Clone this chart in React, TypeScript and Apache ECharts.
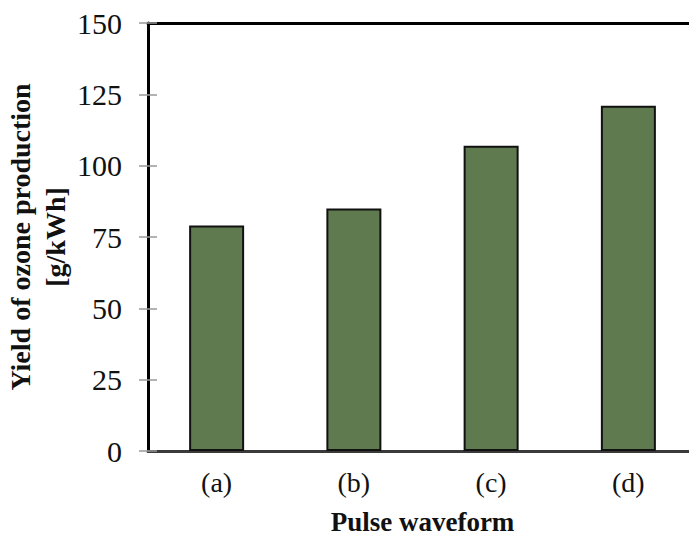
import React, { useEffect, useRef } from "react";
import * as echarts from "echarts";

const categories = ["(a)", "(b)", "(c)", "(d)"];
const yieldValues = [79, 85, 107, 121];
const yTicks = [0, 25, 50, 75, 100, 125, 150];

const SERIF = "'Liberation Serif', 'Times New Roman', serif";

const GRID_LEFT = 148;
const GRID_WIDTH = 549;

export default function App() {
  const ref = useRef<HTMLDivElement>(null);

  useEffect(() => {
    if (!ref.current) return;
    const chart = echarts.init(ref.current, null, { renderer: "svg" });
    const yMin = yTicks[0];
    const yMax = yTicks[yTicks.length - 1];
    const yStep = yTicks[1] - yTicks[0];

    chart.setOption({
      animation: false,
      backgroundColor: "#ffffff",
      grid: {
        left: GRID_LEFT,
        top: 23,
        width: GRID_WIDTH,
        height: 428,
        containLabel: false,
        outerBoundsMode: "none",
      },
      xAxis: [
        {
          type: "category",
          data: categories,
          position: "bottom",
          axisLine: { show: true, onZero: false, lineStyle: { color: "#3a3a3a", width: 3 } },
          axisTick: { show: false },
          axisLabel: {
            fontFamily: SERIF,
            fontSize: 28,
            color: "#111",
            margin: 17,
          },
          name: "Pulse waveform",
          nameLocation: "middle",
          nameGap: 57,
          nameMoveOverlap: false,
          nameTextStyle: {
            fontFamily: SERIF,
            fontSize: 27,
            fontWeight: "bold",
            color: "#111",
          },
        },
        {
          // frame line along the top of the plot
          type: "category",
          data: categories,
          position: "top",
          axisLine: { show: true, onZero: false, lineStyle: { color: "#000", width: 3 } },
          axisTick: { show: false },
          axisLabel: { show: false },
        },
      ],
      yAxis: [
        {
          type: "value",
          min: yMin,
          max: yMax,
          interval: yStep,
          position: "left",
          axisLine: { show: true, onZero: false, lineStyle: { color: "#000", width: 3 } },
          axisTick: { show: true, inside: false, length: 9, lineStyle: { color: "#999", width: 1.5 } },
          splitLine: { show: false },
          axisLabel: {
            fontFamily: SERIF,
            fontSize: 30,
            color: "#111",
            margin: 26,
          },
          name: "Yield of ozone production\n[g/kWh]",
          nameLocation: "middle",
          nameRotate: 90,
          nameGap: 75,
          nameMoveOverlap: false,
          nameTextStyle: {
            fontFamily: SERIF,
            fontSize: 28,
            fontWeight: "bold",
            color: "#111",
            lineHeight: 35,
            align: "center",
          },
        },
        {
          // tick marks reaching into the plot from the left axis
          type: "value",
          min: yMin,
          max: yMax,
          interval: yStep,
          position: "right",
          offset: -GRID_WIDTH,
          axisLine: { show: false },
          axisTick: { show: true, inside: false, length: 9, lineStyle: { color: "#999", width: 1.5 } },
          splitLine: { show: false },
          axisLabel: { show: false },
        },
      ],
      series: [
        {
          type: "bar",
          data: yieldValues,
          barWidth: 55,
          itemStyle: {
            color: "#5f7a4f",
            borderColor: "#111",
            borderWidth: 2,
          },
        },
      ],
    });

    return () => chart.dispose();
  }, []);

  return (
    <div
      ref={ref}
      style={{ position: "fixed", left: 0, top: 0, width: 689, height: 538, background: "#fff" }}
    />
  );
}
